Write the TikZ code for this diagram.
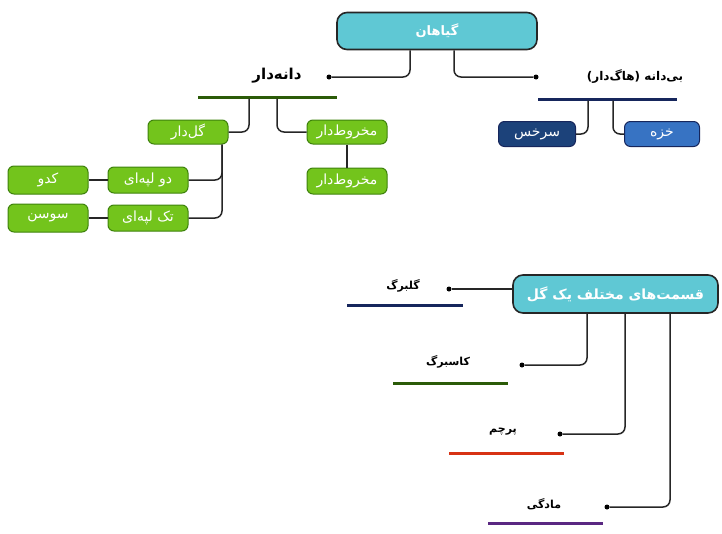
\documentclass[tikz,border=0pt]{standalone}
\usepackage{fontspec}
\TeXXeTstate=1
\newfontfamily\fa[Script=Arabic]{DejaVu Sans}
\newcommand{\rl}[1]{\beginR #1\endR}

\definecolor{tealfill}{RGB}{95,200,212}
\definecolor{leaf}{RGB}{115,196,28}
\definecolor{leafline}{RGB}{62,130,12}
\definecolor{fern}{RGB}{28,66,122}
\definecolor{moss}{RGB}{55,115,195}
\definecolor{navybar}{RGB}{22,38,92}

\tikzset{
  headbox/.style={draw=black!85, line width=1.6pt, rounded corners=10pt, fill=tealfill, text=white, font=\fa\bfseries\fontsize{13}{15}\selectfont, inner sep=0pt},
  greenbox/.style={draw=leafline, line width=1pt, rounded corners=6pt, fill=leaf, text=white, font=\fa\fontsize{14}{16}\selectfont, inner sep=0pt},
  bluebox/.style={draw=navybar, line width=1pt, rounded corners=6pt, text=white, font=\fa\fontsize{14}{16}\selectfont, inner sep=0pt},
  title/.style={font=\fa\bfseries\fontsize{12}{14}\selectfont, text=black},
  small title/.style={font=\fa\bfseries\fontsize{11}{13}\selectfont, text=black},
  bar/.style={inner sep=0pt, minimum height=3pt},
  dot/.style={circle, fill=black, inner sep=0pt, minimum size=5pt},
  conn/.style={line width=1.5pt, draw=black!85, rounded corners=7pt}
}

\begin{document}
\begin{tikzpicture}[x=1pt, y=-1pt]
\useasboundingbox (0,0) rectangle (722,533);

% top part
\node[headbox, minimum width=200, minimum height=37] (plants) at (437,31) {\rl{گیاهان}};

\node[title, font=\fa\bfseries\fontsize{15}{17}\selectfont] (seed) at (277,76) {\rl{دانه‌دار}};
\node[dot] (seeddot) at (329,77) {};
\node[bar, fill=leafline!70!black, minimum width=139] (seedbar) at (267.5,97) {};

\node[title] (spore) at (635,77) {\rl{بی‌دانه (هاگ‌دار)}};
\node[dot] (sporedot) at (536,77) {};
\node[bar, fill=navybar, minimum width=139] (sporebar) at (607.5,99) {};

\path[draw,conn] ([xshift=-27pt]plants.south) |- (seeddot);
\path[draw,conn] ([xshift=17pt]plants.south) |- (sporedot);

% seed plants
\node[greenbox, minimum width=80, minimum height=24] (flower) at (188,132) {\rl{گل‌دار}};
\node[greenbox, minimum width=80, minimum height=24] (cone) at (347,132) {\rl{مخروط‌دار}};
\node[greenbox, minimum width=80, minimum height=26] (cone2) at (347,181) {\rl{مخروط‌دار}};
\node[greenbox, minimum width=80, minimum height=26] (dicot) at (148,180) {\rl{دو لپه‌ای}};
\node[greenbox, minimum width=80, minimum height=26] (monocot) at (148,218) {\rl{تک لپه‌ای}};
\node[greenbox, minimum width=80, minimum height=28] (squash) at (48,180) {\rl{کدو}};
\node[greenbox, minimum width=80, minimum height=28] (lily) at (48,218) {\rl{سوسن}};

\path[draw,conn] ([xshift=-18.5pt]seedbar.south) |- (flower.east);
\path[draw,conn] ([xshift=9.5pt]seedbar.south) |- (cone.west);
\path[draw,conn] (cone.south) -- (cone2.north);
\path[draw,conn] ([xshift=34pt]flower.south) |- (dicot.east);
\path[draw,conn] ([xshift=34pt]flower.south) |- (monocot.east);
\path[draw,conn] (squash.east) -- (dicot.west);
\path[draw,conn] (lily.east) -- (monocot.west);

% spore plants
\node[bluebox, fill=fern, minimum width=77, minimum height=25] (fernbox) at (537,134) {\rl{سرخس}};
\node[bluebox, fill=moss, minimum width=75, minimum height=25] (mossbox) at (662,134) {\rl{خزه}};

\path[draw,conn] ([xshift=-19.5pt]sporebar.south) |- (fernbox.east);
\path[draw,conn] ([xshift=5.5pt]sporebar.south) |- (mossbox.west);

% flower parts
\node[headbox, font=\fa\bfseries\fontsize{14}{16}\selectfont, minimum width=205, minimum height=38] (parts) at (615.5,294) {\rl{قسمت‌های مختلف یک گل}};

\node[small title] (petal) at (403,286) {\rl{گلبرگ}};
\node[dot] (petaldot) at (449,289) {};
\node[bar, fill=navybar, minimum width=116] (petalbar) at (405,305) {};

\node[small title] (sepal) at (448,362) {\rl{کاسبرگ}};
\node[dot] (sepaldot) at (522,365) {};
\node[bar, fill=leafline!70!black, minimum width=115] (sepalbar) at (450.5,383) {};

\node[small title] (stamen) at (503,432) {\rl{پرچم}};
\node[dot] (stamendot) at (560,434) {};
\node[bar, fill={rgb,255:red,215;green,50;blue,20}, minimum width=115] (stamenbar) at (506.5,453) {};

\node[small title] (pistil) at (544,504) {\rl{مادگی}};
\node[dot] (pistildot) at (607,507) {};
\node[bar, fill={rgb,255:red,90;green,40;blue,130}, minimum width=115] (pistilbar) at (545.5,523) {};

\path[draw,conn] (petaldot) -- (petaldot -| parts.west);
\path[draw,conn] ([xshift=-28.5pt]parts.south) |- (sepaldot);
\path[draw,conn] ([xshift=9.5pt]parts.south) |- (stamendot);
\path[draw,conn] ([xshift=54.5pt]parts.south) |- (pistildot);
\end{tikzpicture}
\end{document}
